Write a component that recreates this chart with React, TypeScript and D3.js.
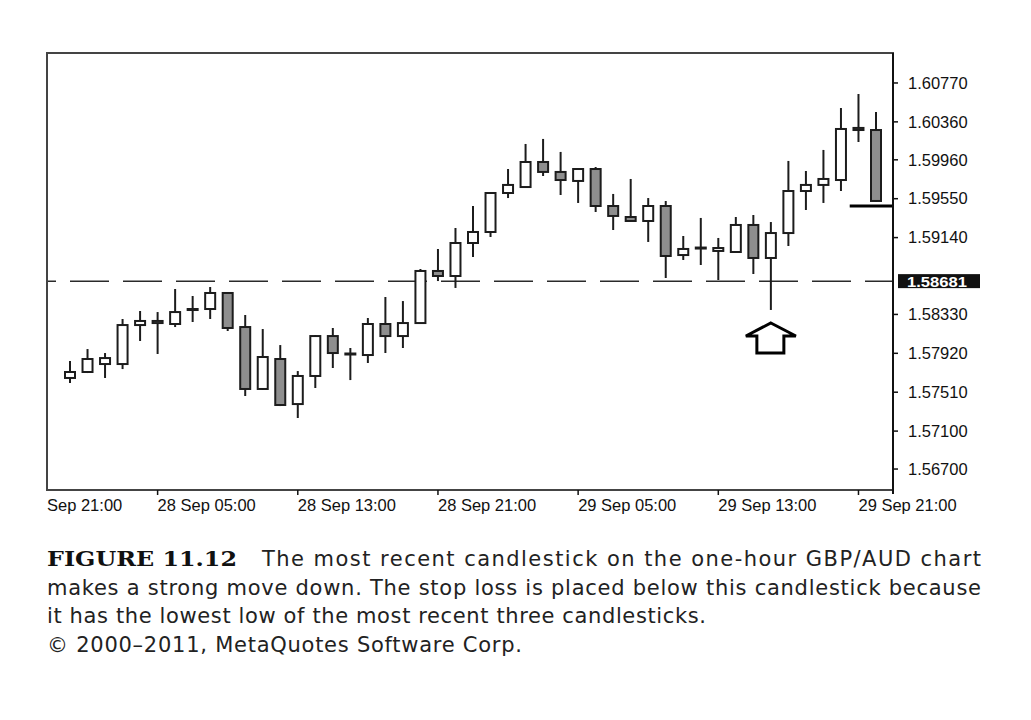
import React from "react";
import * as d3 from "d3";

// One-hour GBP/AUD candles, first candle = 28 Sep 00:00
const opens = [1.57660, 1.57723, 1.57807, 1.57807, 1.58218, 1.58239, 1.58229, 1.58377, 1.58387, 1.58556,
  1.58197, 1.57544, 1.57860, 1.57385, 1.57681, 1.58102, 1.57908, 1.57902, 1.58229, 1.58102,
  1.58239, 1.58788, 1.58735, 1.59083, 1.59199, 1.59610, 1.59673, 1.59937, 1.59832, 1.59737,
  1.59863, 1.59473, 1.59357, 1.59315, 1.59473, 1.58956, 1.59025, 1.58999, 1.58988, 1.59273,
  1.58925, 1.59188, 1.59631, 1.59695, 1.59747, 1.60296, 1.60274];
const highs = [1.57839, 1.57965, 1.57923, 1.58282, 1.58366, 1.58355, 1.58598, 1.58524, 1.58619, 1.58566,
  1.58324, 1.58176, 1.58007, 1.57733, 1.58113, 1.58187, 1.57976, 1.58292, 1.58514, 1.58471,
  1.58809, 1.59020, 1.59241, 1.59473, 1.59615, 1.59863, 1.60127, 1.60180, 1.60043, 1.59868,
  1.59884, 1.59600, 1.59758, 1.59557, 1.59526, 1.59157, 1.59347, 1.59136, 1.59357, 1.59378,
  1.59304, 1.59948, 1.59842, 1.60064, 1.60506, 1.60654, 1.60464];
const lows = [1.57607, 1.57712, 1.57660, 1.57754, 1.58050, 1.57913, 1.58197, 1.58250, 1.58282, 1.58155,
  1.57470, 1.57533, 1.57364, 1.57238, 1.57554, 1.57765, 1.57638, 1.57818, 1.57923, 1.57976,
  1.58239, 1.58682, 1.58609, 1.58935, 1.59146, 1.59557, 1.59663, 1.59789, 1.59589, 1.59505,
  1.59410, 1.59220, 1.59310, 1.59094, 1.58714, 1.58904, 1.58851, 1.58693, 1.58985, 1.58756,
  1.58377, 1.59051, 1.59431, 1.59505, 1.59631, 1.60148, 1.59520];
const closes = [1.57723, 1.57860, 1.57870, 1.58218, 1.58261, 1.58261, 1.58355, 1.58387, 1.58556, 1.58187,
  1.57544, 1.57881, 1.57375, 1.57681, 1.58102, 1.57923, 1.57918, 1.58229, 1.58102, 1.58239,
  1.58788, 1.58735, 1.59083, 1.59199, 1.59610, 1.59695, 1.59937, 1.59832, 1.59747, 1.59863,
  1.59473, 1.59368, 1.59315, 1.59473, 1.58946, 1.59020, 1.59035, 1.59030, 1.59273, 1.58925,
  1.59188, 1.59631, 1.59695, 1.59758, 1.60285, 1.60274, 1.59526];

const yTickValues = [1.60770, 1.60360, 1.59960, 1.59550, 1.59140, 1.58330, 1.57920, 1.57510, 1.57100, 1.56700];
const yTickLabels = ["1.60770", "1.60360", "1.59960", "1.59550", "1.59140", "1.58330", "1.57920", "1.57510", "1.57100", "1.56700"];
const levelValue = 1.58681;
const levelLabel = "1.58681";
const stopLossValue = 1.59473;
const arrowCandle = 40;

const xTickIndex = [5, 13, 21, 29, 37, 45];
const xTickLabels = ["28 Sep 05:00", "28 Sep 13:00", "28 Sep 21:00", "29 Sep 05:00", "29 Sep 13:00", "29 Sep 21:00"];
const firstLabel = "Sep 21:00";

const captionBold = "FIGURE 11.12";
const captionLines = [
  "The most recent candlestick on the one-hour GBP/AUD chart",
  "makes a strong move down. The stop loss is placed below this candlestick because",
  "it has the lowest low of the most recent three candlesticks.",
  "\u00A9 2000\u20132011, MetaQuotes Software Corp.",
];

const W = 1031, H = 720;
const frame = { left: 47, right: 893, top: 53, bottom: 490 };

export default function App() {
  const x = d3.scaleLinear().domain([0, opens.length - 1]).range([70, 876]);
  const y = d3.scaleLinear().domain([1.56479, 1.61086]).range([frame.bottom, frame.top]);
  const bodyW = 10;
  const stroke = "#1c1c1c";
  const axisFont = "'Liberation Sans', Arial, sans-serif";
  const capFont = "'DejaVu Sans', sans-serif";

  const ax = x(arrowCandle);
  const ay = y(lows[arrowCandle]) + 13;
  const arrowPath = `M${ax},${ay} L${ax + 25},${ay + 13} L${ax + 13},${ay + 13} L${ax + 13},${ay + 30} L${ax - 14},${ay + 30} L${ax - 14},${ay + 13} L${ax - 25},${ay + 13} Z`;

  const stepX = x(1) - x(0);

  return (
    <svg width={W} height={H} style={{ position: "absolute", left: 0, top: 0, background: "#fff" }}>
      <rect x={0} y={0} width={W} height={H} fill="#fff" />
      <defs>
        <clipPath id="plot">
          <rect x={frame.left} y={frame.top} width={frame.right - frame.left} height={frame.bottom - frame.top} />
        </clipPath>
      </defs>

      {/* level dashed line */}
      <line x1={frame.left} x2={frame.right} y1={y(levelValue)} y2={y(levelValue)}
        stroke="#2a2a2a" strokeWidth={1.5} strokeDasharray="39 14" strokeDashoffset={30} />

      {/* candles */}
      <g clipPath="url(#plot)">
        {opens.map((o, i) => {
          const c = closes[i];
          const cx = x(i);
          const top = y(Math.max(o, c));
          const bot = y(Math.min(o, c));
          const bear = c < o;
          return (
            <g key={i}>
              <line x1={cx} x2={cx} y1={y(highs[i])} y2={y(lows[i])} stroke={stroke} strokeWidth={2} />
              <rect x={cx - bodyW / 2} y={top} width={bodyW} height={Math.max(bot - top, 1)}
                fill={bear ? "#8e8e8e" : "#ffffff"} stroke={stroke} strokeWidth={2} />
            </g>
          );
        })}
      </g>

      {/* stop loss line */}
      <line x1={x(opens.length - 2) - stepX / 2} x2={frame.right} y1={y(stopLossValue)} y2={y(stopLossValue)}
        stroke="#000" strokeWidth={3} />

      {/* arrow */}
      <path d={arrowPath} fill="#fff" stroke="#000" strokeWidth={3} strokeLinejoin="miter" />

      {/* frame */}
      <rect x={frame.left} y={frame.top} width={frame.right - frame.left} height={frame.bottom - frame.top}
        fill="none" stroke="#444" strokeWidth={2} />
      <line x1={frame.right} x2={frame.right} y1={frame.top} y2={frame.bottom + 4} stroke="#111" strokeWidth={2} />

      {/* y axis */}
      {yTickValues.map((v, i) => (
        <g key={"y" + i}>
          <line x1={frame.right} x2={frame.right + 5} y1={y(v)} y2={y(v)} stroke="#111" strokeWidth={1.5} />
          <text x={frame.right + 15} y={y(v)} dy="0.35em" fontFamily={axisFont} fontSize={16.5} fill="#111">
            {yTickLabels[i]}
          </text>
        </g>
      ))}
      <rect x={frame.right + 5} y={y(levelValue) - 7} width={82} height={14} fill="#111" />
      <text x={frame.right + 14} y={y(levelValue)} dy="0.36em" fontFamily={axisFont} fontSize={15.5}
        fontWeight="bold" fill="#fff" textLength={60} lengthAdjust="spacingAndGlyphs">{levelLabel}</text>

      {/* x axis */}
      {xTickIndex.map((idx, i) => (
        <g key={"x" + i}>
          <line x1={x(idx)} x2={x(idx)} y1={frame.bottom} y2={frame.bottom + 5} stroke="#111" strokeWidth={1.5} />
          <text x={x(idx)} y={frame.bottom + 21} fontFamily={axisFont} fontSize={16.5} fill="#111">
            {xTickLabels[i]}
          </text>
        </g>
      ))}
      <text x={frame.left} y={frame.bottom + 21} fontFamily={axisFont} fontSize={16.5} fill="#111">{firstLabel}</text>

      {/* caption */}
      <text x={47} y={566} fontFamily="'DejaVu Serif', serif" fontWeight="900" fontSize={21} fill="#111"
        textLength={190} lengthAdjust="spacingAndGlyphs">{captionBold}</text>
      <text x={262} y={566} fontFamily={capFont} fontSize={21} fill="#222"
        textLength={719} lengthAdjust="spacing">{captionLines[0]}</text>
      <text x={47} y={595} fontFamily={capFont} fontSize={21} fill="#222"
        textLength={934} lengthAdjust="spacing">{captionLines[1]}</text>
      <text x={47} y={623} fontFamily={capFont} fontSize={21} fill="#222"
        textLength={659} lengthAdjust="spacing">{captionLines[2]}</text>
      <text x={47} y={652} fontFamily={capFont} fontSize={21} fill="#222"
        textLength={475} lengthAdjust="spacing">{captionLines[3]}</text>
    </svg>
  );
}
